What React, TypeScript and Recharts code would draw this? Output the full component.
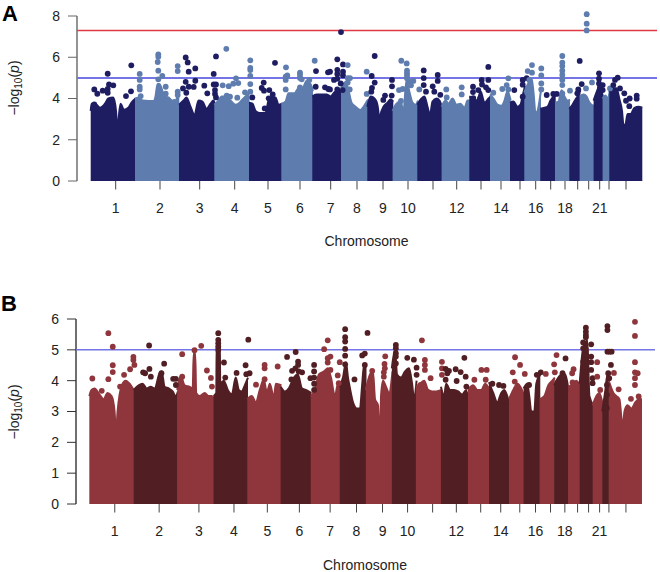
import { Area, ComposedChart, ReferenceLine, Scatter, XAxis, YAxis } from 'recharts';

type Pair = number[];

const chromTicks = [25.2, 69.5, 109.2, 144.2, 177.5, 209.5, 240.2, 266.5, 292.5, 317.5, 342.5, 366.2, 390.5, 410.5, 429.5, 445.2, 460.2, 474.5, 487.2, 498.2, 509.2, 518.5, 535.5];
const chromLabels = ['1', '2', '3', '4', '5', '6', '7', '8', '9', '10', '', '12', '', '14', '', '16', '', '18', '', '', '21', '', ''];

const yTicksA = [0, 2, 4, 6, 8];
const yTicksB = [0, 1, 2, 3, 4, 5, 6];

const colorsA = ['#1f1d62', '#5e7dae'];
const colorsB = ['#8f363d', '#511f23'];

// top outline of the dense cloud, one list per chromosome: [position, -log10 p]
const bodyA: Pair[][] = [
  [[0.2, 3.4], [1, 3.75], [4.5, 3.75], [9.5, 3.55], [14.5, 3.75], [17.8, 4], [22.8, 4.05], [25.5, 3.4], [27, 2.4], [28.2, 3.05], [30, 3.75], [33.5, 3.45], [37.8, 3.55], [41, 3.8], [45, 4]],
  [[45.2, 4], [49, 4.05], [52, 3.9], [58, 3.88], [63, 3.88], [65, 4.1], [67, 4.7], [69, 4.7], [71, 4.5], [74, 4.1], [78, 4.05], [81, 3.9], [84, 3.7], [87, 4.1], [88.8, 4.2]],
  [[89.2, 3.7], [93, 3.9], [96, 4.05], [100, 3.6], [104, 3.2], [108, 3.9], [112, 3.85], [116, 3.5], [120, 3.75], [123, 3.9], [124.5, 3.7]],
  [[124.5, 3.7], [128, 3.9], [131, 4.1], [135, 4.1], [138, 4], [141, 3.85], [145, 3.7], [148, 3.75], [151, 3.9], [155, 4.1], [159, 4.3]],
  [[159.2, 3.8], [162, 3.75], [165, 3.4], [169, 3.3], [172, 3.3], [175, 3.3], [178, 3.9], [181, 4.05], [185, 4.05], [188, 3.7], [191.5, 3.75]],
  [[191.5, 3.75], [195, 3.85], [198, 4.25], [204, 4.25], [208, 4.5], [212, 4.5], [216, 4.85], [220, 4.7], [222.5, 4.35]],
  [[222.5, 4.1], [226, 4.2], [232, 4.2], [236, 4.2], [240, 4.1], [244, 4.3], [247, 4.4], [250, 4.3], [251.2, 4.2]],
  [[251.2, 4.5], [255, 4.8], [258, 4.4], [261, 3.8], [265, 3.6], [270, 3.44], [273, 3.6], [277.5, 3.95]],
  [[277.5, 3.6], [280, 4.1], [283, 4.05], [286, 3.85], [288, 3.3], [289, 1.5], [290, 3.2], [293, 3.6], [297, 3.8], [300, 3.95], [302.8, 3.85]],
  [[302.8, 3.4], [306, 3.75], [310, 3.85], [313, 3.4], [316, 4.9], [319, 4.3], [322, 3.8], [325, 3.7], [327.5, 3.9]],
  [[327.5, 3.7], [331, 4], [334, 4.1], [337, 3.6], [339.5, 3.2], [342, 3.85], [346, 4], [349, 3.9], [351.8, 3.5]],
  [[351.8, 3.6], [355, 3.9], [358, 3.75], [362, 4], [366, 3.7], [370, 3.75], [374, 3.55], [377, 3.9], [379.5, 3.9]],
  [[379.5, 4.1], [383, 4], [387, 3.9], [390, 4.35], [394, 3.8], [398, 4], [400.2, 4.1]],
  [[400.2, 4.2], [403, 4], [407, 3.7], [411, 3.65], [414, 3.9], [417, 4.35], [420.2, 3.9]],
  [[420.2, 3.8], [423, 3.85], [427, 3.6], [430, 3.7], [432, 4.1], [434.5, 4.6]],
  [[434.5, 4.3], [438, 4.75], [441, 5], [443, 4.3], [445, 3.3], [447, 3.4], [449, 3.9], [450.5, 4.4]],
  [[450.5, 3.5], [454, 3.55], [457, 3.6], [460, 3.9], [463, 4.1], [465.2, 4.15]],
  [[465.2, 3.8], [468, 3.85], [471, 4.4], [474, 4.1], [477, 3.9], [479.5, 3.95]],
  [[479.5, 3.5], [482, 3.7], [485, 3.95], [487, 4.1], [489.8, 4.4]],
  [[489.8, 4.1], [493, 4.2], [496, 4.1], [499, 3.8], [501, 3.7], [503.8, 3.65]],
  [[503.8, 3.9], [506, 4.3], [509, 4.6], [512.8, 4]],
  [[512.8, 4], [515, 4.15], [517, 4], [519.5, 4.4]],
  [[519.5, 4.3], [523, 4.5], [526, 4.5], [529, 3.95], [531.5, 3.4], [533, 2.7], [535, 2.75], [537, 3.25], [540, 3.25], [544, 3.55], [548, 3.6], [551.8, 3.55]],
];

// single points standing above the cloud
const hitsA: Pair[][] = [
  [[3.8, 4.44], [6.8, 4.23], [12.2, 4.38], [17.2, 4.46], [17.2, 5.2], [18.5, 4.68], [22.8, 4.64], [17.2, 4.28], [40.8, 5.61], [35.5, 4.12], [40.5, 4.35], [3.8, 3.72]],
  [[49.2, 5.19], [49.2, 4.9], [49.2, 4.57], [49.2, 4.44], [50.2, 4.12], [67.8, 6.14], [67.8, 6.03], [67.2, 5.77], [67.8, 5.35], [71.8, 5.1], [67.8, 4.93], [75.2, 4.57], [75.2, 4.23], [87.2, 5.57], [87.2, 5.33], [87.2, 4.33], [87.2, 4.17], [83.8, 3.84]],
  [[95.2, 5.99], [97.2, 5.75], [98.2, 5.3], [104.8, 5.46], [95.2, 4.81], [104.8, 4.86], [92.5, 4.49], [98.2, 4.57], [103.2, 4.56], [95.8, 4.28], [113.8, 4.62], [116.8, 4.25], [125.5, 6.04], [123.2, 5.19], [123.2, 4.68], [125.5, 4.68], [124.5, 4.41], [124.5, 4.22], [125.5, 4.05]],
  [[135.8, 6.41], [132.2, 4.64], [138.2, 4.6], [142.8, 4.72], [145.5, 4.98], [147.8, 4.75], [159.8, 5.85], [159.8, 5.48], [159.8, 5.38], [159.8, 5.09], [159.8, 4.7], [159.8, 4.33], [154.5, 4.3], [146.8, 4.04], [136.2, 4.14], [139.5, 4.09]],
  [[161.8, 4.05], [184.5, 5.73], [173.2, 4.77], [171.2, 4.51], [173.5, 4.38], [178.8, 4.41], [178.2, 4.01], [174.2, 3.52], [182.2, 4.2]],
  [[195.5, 5.51], [195.2, 5.06], [196.8, 5.12], [195.2, 4.9], [195.2, 4.44], [209.5, 5.25], [209.5, 5.14], [209.5, 5], [211.2, 4.93], [209.5, 4.54], [218.8, 4.9], [224.2, 5.83]],
  [[225.5, 5.33], [237.5, 5.27], [225.2, 4.57], [234.5, 4.54], [237.8, 4.46], [239.5, 5.3], [239.5, 4.44], [250.5, 7.22], [246.8, 5.9], [252.5, 5.65], [246.8, 5.39], [246.8, 5.19], [252.5, 5.3], [252.5, 5.12], [243.5, 4.9], [246.8, 4.96], [250.2, 4.73], [246.8, 4.44], [252.2, 4.41]],
  [[257.2, 5.62], [257.2, 4.99], [259.5, 4.99], [257.2, 4.77], [259.2, 4.44], [276.2, 5.3], [276.2, 4.22]],
  [[284.2, 6.06], [281.2, 5.09], [284.2, 4.77], [281.5, 4.52], [280.8, 4.33], [294.5, 4.14], [301.5, 4.9], [301.5, 4.59], [292.8, 3.93], [301.2, 4.14]],
  [[310.8, 5.83], [316.2, 5.7], [316.5, 5.35], [316.5, 5.22], [316.5, 5.09], [316.5, 4.98], [322.8, 4.85], [320.5, 4.64], [308.5, 4.41], [312.2, 4.46], [319.5, 4.81], [310.5, 3.88], [328.8, 4.44]],
  [[333.2, 5.36], [333.2, 4.99], [333.2, 4.65], [347.2, 5.14], [347.2, 4.85], [342.2, 4.59], [343.8, 4.33], [349.8, 4.18], [335.5, 4.33]],
  [[355.8, 4.44], [356.2, 4.05], [371.2, 4.54], [371.2, 4.2]],
  [[382.5, 4.57], [382.5, 4.31], [391.2, 4.9], [391.5, 4.68], [397.8, 5.53], [397.8, 4.9], [395.5, 4.54], [382.8, 4.02], [387.8, 4.41], [389.5, 4], [397.8, 4.41]],
  [[402.8, 4.28], [417.8, 4.98], [411.8, 4.46], [416.2, 4.65], [417.8, 4.44]],
  [[423.8, 4.41], [432.2, 4.9], [432.2, 4.67], [436.2, 4.99], [432.2, 4.09]],
  [[441.5, 5.62], [437.2, 5.33], [441.5, 5.25], [438.8, 4.9], [450.8, 5.46], [450.8, 5.12], [450.8, 4.73], [450.8, 4.44]],
  [[456.2, 4.17], [462.8, 4.22], [466.2, 4.22]],
  [[471.8, 6.06], [471.8, 5.74], [471.8, 5.57], [471.8, 5.35], [471.8, 5.14], [471.8, 4.9], [471.8, 4.65], [479.5, 4.38], [471.8, 4.25]],
  [[489.2, 5.82], [491.2, 4.7], [487.8, 4.44], [486.8, 4.25]],
  [[496.2, 8.09], [496.2, 7.63], [496.2, 7.3], [495.5, 4.49], [501.5, 4.78]],
  [[508.5, 5.22], [508.5, 4.96], [508.5, 4.73], [512.2, 4.65], [512.2, 4.41], [509.5, 4.54]],
  [[519.5, 4.49]],
  [[527.2, 5.01], [524.5, 4.9], [522.8, 4.65], [529.5, 4.49], [533.8, 4.25], [539.2, 4], [535.5, 3.89], [538.8, 3.63], [546.2, 4.14], [546.2, 3.99]],
];

const bodyB: Pair[][] = [
  [[-0.2, 3.5], [2, 3.7], [5, 3.75], [10, 3.55], [14, 3.4], [18, 3.6], [22, 3.5], [25, 3], [26.5, 2.3], [28, 3], [30, 3.55], [33, 3.9], [36, 4], [40, 3.9], [44.8, 3.65]],
  [[44.8, 3.7], [49, 3.85], [53, 3.9], [57, 3.75], [61, 3.8], [65, 3.75], [70, 4.25], [72, 4.3], [75, 3.8], [79, 3.75], [83, 3.65], [86, 3.5], [88.2, 3.65]],
  [[88.2, 3.7], [91, 4.15], [95, 3.85], [100, 3.8], [103, 3.75], [104, 4.9], [105.5, 4.9], [106.5, 3.6], [110, 3.5], [115, 3.6], [119, 3.5], [122, 3.5], [124.5, 3.4]],
  [[124.5, 3.5], [126.5, 3.6], [127, 5.3], [130, 5.3], [130.5, 3.9], [134, 4], [138, 3.7], [142, 3.55], [146, 4.1], [149, 3.7], [152, 3.65], [155, 3.85], [158.2, 4.1]],
  [[158.2, 3.4], [162, 3.5], [166, 3.3], [170, 3.7], [174, 4.05], [177, 3.6], [180, 3.9], [184, 3.45], [186, 3.9], [191.5, 3.85]],
  [[191.5, 3.8], [195, 3.65], [199, 3.75], [204, 4.1], [208, 4.2], [212, 3.75], [216, 3.7], [221.5, 3.6]],
  [[221.5, 3.5], [225, 3.7], [229, 4.2], [234, 4.3], [238, 4.4], [241, 4.1], [245, 3.5], [248, 3.9], [250.5, 3.9]],
  [[250.5, 3.8], [253, 4.1], [256, 4.6], [258, 4.1], [260, 3.75], [263, 3.3], [267, 3.1], [270, 3.1], [272, 3.8], [274, 4.5], [276.5, 4.5]],
  [[276.5, 3.7], [280, 4.2], [283, 4.3], [285, 3.4], [288, 3.2], [289.5, 2.2], [290.2, 2], [291, 3.5], [293, 4], [296, 3.8], [299, 3.6], [302.5, 4.3]],
  [[302.5, 4.4], [305, 5], [307, 4.2], [311, 4.1], [315, 4.3], [319, 4.4], [322, 3.9], [324, 3.4], [326.5, 4]],
  [[326.5, 3.8], [330, 3.9], [334, 4], [338, 3.7], [342, 3.65], [346, 3.65], [351.5, 3.7]],
  [[351.5, 3.8], [354, 3.5], [356, 3.9], [360, 3.7], [364, 3.7], [368, 3.65], [372, 3.55], [376, 3.7], [378.5, 3.3]],
  [[378.5, 3.7], [383, 3.85], [387, 3.7], [391, 3.7], [395, 3.9], [399.5, 3.7]],
  [[399.5, 3.95], [403, 3.6], [407, 3.3], [411, 3.6], [414, 3.7], [417, 3.5], [419.5, 3.2]],
  [[419.5, 3.4], [423, 3.7], [427, 3.9], [431, 3.75], [434, 3.5]],
  [[434, 3.75], [437, 3.9], [439, 3.5], [441, 3], [444, 3], [446, 3.9], [450, 4.2]],
  [[450, 3.4], [454, 3.5], [458, 3.85], [462, 4], [464.5, 4.1]],
  [[464.5, 3.85], [468, 4.1], [471, 4.2], [475, 4.2], [478.5, 3.6]],
  [[478.5, 3.8], [483, 3.9], [486, 4], [490, 3.8]],
  [[490, 3.9], [493, 5.1], [497, 5.3], [499, 3.5], [503, 3.2]],
  [[503, 3.2], [506, 3.5], [509, 3.6], [512.5, 3.2]],
  [[512.5, 3], [515, 3.7], [517, 4.2], [519, 4.2]],
  [[519, 4], [523, 3.6], [526, 3.5], [529, 3.4], [531, 2.8], [532.5, 2.5], [534, 3], [537, 3.2], [541, 3.1], [545, 3.3], [548, 3.4], [551.5, 3.4]],
];

const hitsB: Pair[][] = [
  [[2.8, 4.07], [18.8, 5.54], [23.2, 5.1], [23.2, 4.5], [23.2, 4.28], [18.8, 4.05], [30.5, 3.81], [40.5, 4.37], [34.5, 4.19], [43.8, 4.77], [43.8, 4.67], [44.8, 4.51], [39.8, 3.76], [12.2, 3.67]],
  [[59.5, 5.14], [74.5, 4.55], [53.5, 4.27], [55.5, 4.24], [59.8, 4.38], [61.2, 4.13], [83.5, 4.06], [86.2, 4.06], [86.2, 3.86], [71.8, 4.24]],
  [[92.5, 4.86], [104.8, 4.99], [111.5, 5.13], [117.2, 4.33], [121.2, 4.09], [122.2, 3.81], [92.5, 4.13]],
  [[128.5, 5.54], [128.5, 5.32], [128.5, 5.21], [128.5, 5.1], [128.5, 5], [134.2, 4.59], [158.5, 5.33], [155.8, 4.5], [146.8, 4.25], [159.8, 4.24], [156.5, 4.21], [135.5, 4.1]],
  [[166.2, 3.87], [174.8, 4.51], [174.8, 4.4], [187.8, 4.46], [174.8, 4.05], [178.2, 3.65]],
  [[197.2, 4.77], [205.8, 4.93], [208.2, 4.62], [208.2, 4.51], [202.2, 4.32], [205.5, 4.4], [212.2, 4.27], [201.5, 4.04], [208.8, 4.3], [220.5, 4.08], [224.2, 4.51], [224.2, 4.3], [224.2, 4.1], [224.2, 3.9], [224.2, 3.7]],
  [[234.2, 5.02], [237.8, 5.31], [237.8, 4.73], [237.8, 4.59], [240.5, 4.35], [247.8, 4.17], [249.8, 4.6], [248.8, 3.92], [240.5, 4.78]],
  [[255.2, 5.67], [255.2, 5.41], [255.2, 5.27], [255.2, 5.03], [255.2, 4.81], [255.2, 4.53], [264.5, 4.04], [272.2, 4.82], [274.8, 4.88], [277.5, 5.55], [274.8, 4.51]],
  [[295.2, 4.79], [294.5, 4.54], [294.8, 4.4], [293.8, 4.27], [282.2, 4.32], [293.8, 4.13]],
  [[305.8, 5.16], [305.8, 5.05], [305.8, 4.89], [305.8, 4.78], [317.2, 4.74], [323.8, 4.68], [326.5, 4.42], [326.5, 4.19], [305.8, 4.56]],
  [[331.8, 5.31], [334.8, 4.67], [334.8, 4.51], [334.8, 4.35], [340.5, 4.08], [330.5, 3.86], [351.8, 4.61], [351.8, 4.4], [351.8, 4.19]],
  [[355.5, 4.38], [358.8, 4.32], [357.2, 4.24], [365.5, 4.37], [370.5, 4.28], [374.2, 4.74], [375.5, 4.13], [366.5, 3.99], [355.5, 4.03], [376.2, 3.81]],
  [[391.2, 4.35], [396.5, 4.35], [384.2, 4.03], [395.5, 4.03]],
  [[402.2, 3.9], [408.8, 3.86], [413.2, 3.83]],
  [[424.8, 4.76], [429.8, 4.51], [422.5, 4.27], [434.5, 4.22], [424.5, 3.97]],
  [[450.5, 4.27], [446.5, 4.19], [438.8, 3.86]],
  [[455.5, 4.22], [466.2, 4.83], [463.8, 4.53], [464.5, 4.27]],
  [[475.2, 4.72], [467.8, 3.97], [472.2, 4.24]],
  [[483.2, 4.37], [481.8, 4.24], [482.2, 3.94]],
  [[495.5, 5.72], [495.5, 5.59], [495.5, 5.48], [495.5, 5.41], [492.8, 5.24], [492.8, 5.05], [495.5, 5], [500.8, 5.18], [500.8, 4.78], [500.8, 4.6], [500.8, 4.35], [495.5, 4.83], [492.8, 4.62], [492.8, 4.4], [492.8, 4.19], [502.2, 4.08], [502.2, 3.92]],
  [[506.8, 4.6], [506.8, 4.13], [509.8, 3.7]],
  [[517, 5.77], [517, 5.64], [517, 4.94], [519, 4.94], [521.2, 4.94], [520.5, 4.51], [517.8, 4.24], [518.8, 4.08], [516.5, 3.86], [516.5, 3.54], [516.5, 3.11]],
  [[544.5, 5.91], [544.5, 5.45], [544.5, 4.6], [544.5, 4.27], [547.2, 4.24], [544.5, 4.08], [544.5, 3.86], [523.5, 4.25], [528.2, 3.72], [540.5, 3.41], [548.2, 3.49]],
];

const font = 'Liberation Sans, Arial, sans-serif';
const xMin = -13.5;

const toPoints = (pairs: Pair[]) => pairs.map(([x, y]) => ({ x, y }));

// later chromosomes lap over the one before so no pale seam shows between them
const bodyPoints = (pairs: Pair[], i: number) =>
  toPoints(pairs).map((pt, k) => (k === 0 && i > 0 ? { ...pt, x: pt.x - 0.7 } : pt));

function Panel(props: {
  height: number;
  top: number;
  plotTop: number;
  axisWidth: number;
  axisHeight: number;
  rightGap: number;
  maxY: number;
  yTicks: number[];
  body: Pair[][];
  hits: Pair[][];
  colors: string[];
  axisColor: string;
  blueWidth: number;
  showRed: boolean;
  yLabelCenter: number;
  xLabelY: number;
  xLabelX: number;
}) {
  const p = props;
  const tickStyle = { fontFamily: font, fontSize: 14, fill: '#222' };
  const axisTop = p.yTicks[p.yTicks.length - 1];
  return (
    <div style={{ position: 'absolute', left: 0, top: p.top }}>
      <ComposedChart
        width={660}
        height={p.height}
        margin={{ top: p.plotTop, right: p.rightGap, bottom: 0, left: 0 }}
      >
        <XAxis
          type="number"
          dataKey="x"
          domain={[xMin, 566.5 - (p.rightGap - 3)]}
          ticks={chromTicks}
          interval={0}
          height={p.axisHeight}
          axisLine={false}
          tickLine={{ stroke: '#444', strokeWidth: 1 }}
          tickSize={8.5}
          tickMargin={14}
          tick={tickStyle}
          tickFormatter={(_v: number, i: number) => chromLabels[i]}
          label={{
            content: () => (
              <text x={p.xLabelX} y={p.xLabelY} textAnchor="middle" fontFamily={font} fontSize={14} fill="#222">
                Chromosome
              </text>
            ),
          }}
        />
        <YAxis
          type="number"
          dataKey="y"
          domain={[0, p.maxY]}
          ticks={p.yTicks}
          interval={0}
          width={p.axisWidth}
          axisLine={false}
          tickLine={{ stroke: p.axisColor, strokeWidth: 1 }}
          tickSize={9}
          tickMargin={8}
          tick={tickStyle}
          label={{
            content: () => (
              <text
                transform={`translate(19 ${p.yLabelCenter}) rotate(-90)`}
                textAnchor="middle"
                fontFamily={font}
                fontSize={14}
                fill="#222"
              >
                −log
                <tspan dy={3} fontSize={10}>10</tspan>
                <tspan dy={-3}>(</tspan>
                <tspan fontStyle="italic">p</tspan>)
              </text>
            ),
          }}
        />
        <ReferenceLine
          segment={[{ x: xMin, y: 0 }, { x: xMin, y: axisTop }]}
          stroke={p.axisColor}
          strokeWidth={1.4}
        />
        {p.body.map((pairs, i) => (
          <Area
            key={`body-${i}`}
            data={bodyPoints(pairs, i)}
            dataKey="y"
            type="monotone"
            fill={p.colors[i % 2]}
            fillOpacity={1}
            stroke={p.colors[i % 2]}
            strokeWidth={2}
            strokeLinejoin="round"
            dot={false}
            activeDot={false}
            isAnimationActive={false}
          />
        ))}
        {p.hits.map((pairs, i) => (
          <Scatter
            key={`hits-${i}`}
            data={toPoints(pairs)}
            dataKey="y"
            isAnimationActive={false}
            shape={(s: { cx?: number; cy?: number }) => (
              <circle cx={s.cx} cy={s.cy} r={2.9} fill={p.colors[i % 2]} />
            )}
          />
        ))}
        {p.showRed && <ReferenceLine y={7.3} stroke="#dd3a44" strokeWidth={1.4} />}
        <ReferenceLine y={5} stroke="#7474e6" strokeWidth={p.blueWidth} />
      </ComposedChart>
    </div>
  );
}

const letterStyle = {
  position: 'absolute' as const,
  fontFamily: font,
  fontWeight: 700,
  fontSize: 22,
  lineHeight: '22px',
  color: '#000',
};

export default function App() {
  return (
    <div style={{ position: 'absolute', left: 0, top: 0, width: 660, height: 572, background: '#fff' }}>
      <div style={{ ...letterStyle, left: 2, top: 3 }}>A</div>
      <div style={{ ...letterStyle, left: 1, top: 293 }}>B</div>
      <Panel
        height={260}
        top={0}
        plotTop={5.69}
        axisWidth={77}
        axisHeight={79}
        rightGap={3}
        maxY={8.5}
        yTicks={yTicksA}
        body={bodyA}
        hits={hitsA}
        colors={colorsA}
        axisColor="#666"
        blueWidth={2}
        showRed
        yLabelCenter={88}
        xLabelY={246}
        xLabelX={366.5}
      />
      <Panel
        height={287}
        top={285}
        plotTop={34}
        axisWidth={76}
        axisHeight={68}
        rightGap={5}
        maxY={6}
        yTicks={yTicksB}
        body={bodyB}
        hits={hitsB}
        colors={colorsB}
        axisColor="#333"
        blueWidth={1.5}
        showRed={false}
        yLabelCenter={127}
        xLabelY={285}
        xLabelX={365}
      />
    </div>
  );
}
